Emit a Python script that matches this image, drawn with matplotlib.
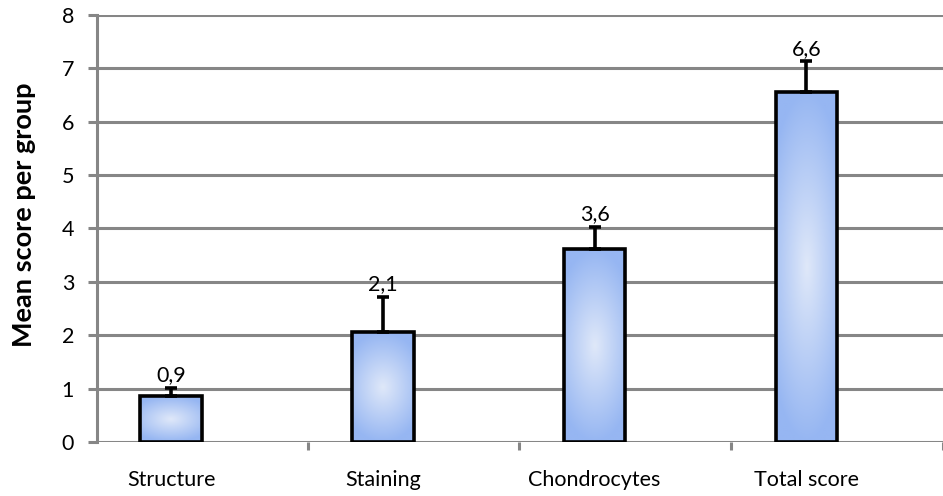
import numpy as np
import matplotlib
matplotlib.use("Agg")
import matplotlib.pyplot as plt
from matplotlib.colors import LinearSegmentedColormap

# data
categories = ["Structure", "Staining", "Chondrocytes", "Total score"]
means = [0.86, 2.06, 3.61, 6.56]
errors = [0.16, 0.66, 0.42, 0.57]

plt.rcParams['font.family'] = ['Lato', 'DejaVu Sans']

fig = plt.figure(figsize=(9.43, 4.96), dpi=100)
ax = fig.add_axes([0.1029, 0.1089, 0.8971, 0.8609])

grid_col = "#868686"
x = np.arange(len(categories))
width = 0.29

bars = ax.bar(x, means, width=width, facecolor="none", edgecolor="black",
              linewidth=2.6, zorder=3)

# path-like gradient inside each bar: light centre, darker edges
cmap = LinearSegmentedColormap.from_list("barfill", ["#dfe8f9", "#96b6f2"])
gy, gx = np.mgrid[-1:1:200j, -1:1:60j]
rr = np.clip(np.sqrt(0.5 * gx ** 2 + gy ** 2), 0, 1)
for b in bars:
    x0, w, h = b.get_x(), b.get_width(), b.get_height()
    im = ax.imshow(rr, cmap=cmap, vmin=0, vmax=1, extent=[x0, x0 + w, 0, h],
                   aspect="auto", origin="lower", zorder=2, interpolation="bilinear")
    im.set_clip_path(b)

ax.errorbar(x, means, yerr=[np.zeros(len(errors)), errors], fmt="none",
            ecolor="black", elinewidth=2.6, capsize=4.5, capthick=2.6, zorder=4)

for xi, m, e in zip(x, means, errors):
    ax.annotate(f"{m:.1f}".replace(".", ","), (xi, m + e), xytext=(0, 2),
                textcoords="offset points", ha="center", va="bottom", fontsize=15.5)

ax.set_xlim(-0.3497, 3.594)
ax.set_ylim(0, 8)
ax.set_yticks(range(0, 9))
ax.yaxis.grid(True, color=grid_col, linewidth=2.2, zorder=1)
ax.set_axisbelow(True)

ax.set_xticks(x)
ax.set_xticklabels(categories, fontsize=15.5)
ax.set_xticks(x + 0.645, minor=True)
ax.tick_params(axis="x", which="major", length=0, pad=20)
ax.tick_params(axis="x", which="minor", length=6, width=2.2, color=grid_col)
ax.tick_params(axis="y", length=6.5, width=2.2, color=grid_col, labelsize=15.5, pad=10)

for s in ["top", "right", "bottom"]:
    ax.spines[s].set_visible(False)
ax.spines["left"].set_color(grid_col)
ax.spines["left"].set_linewidth(2.2)

ax.set_ylabel("Mean score per group", fontsize=19.5, fontweight="bold")
ax.yaxis.set_label_coords(-0.072, 0.532)

fig.savefig("out.png", dpi=100)
